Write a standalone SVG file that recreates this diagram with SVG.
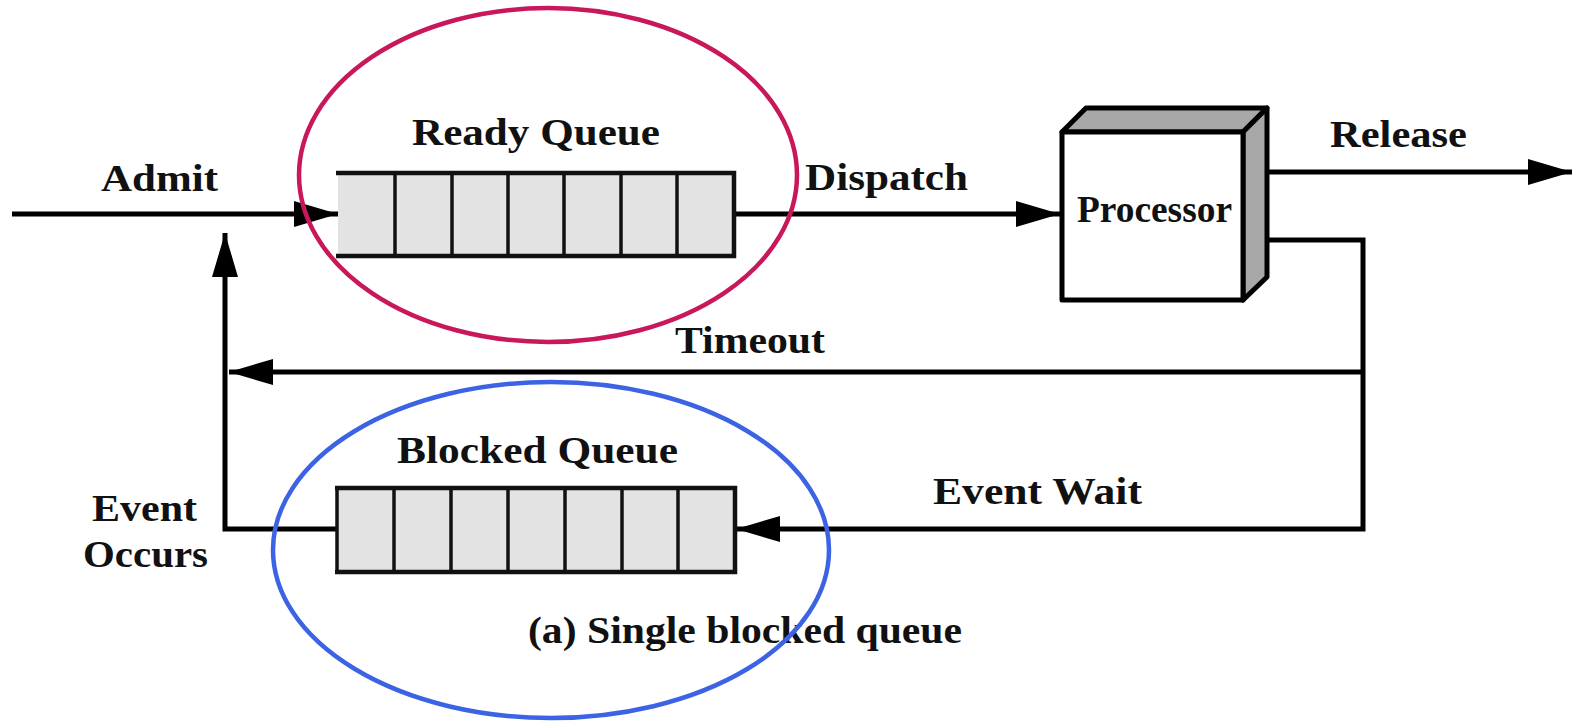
<svg xmlns="http://www.w3.org/2000/svg" width="1574" height="721" viewBox="0 0 1574 721">
  <style>
    .lbl { font-family: "Liberation Serif", "Times New Roman", serif; font-weight: bold; font-size: 37px; fill: #111; }
    .conn { fill: none; stroke: #000; stroke-width: 5; }
    .qfill { fill: #e3e3e3; stroke: none; }
    .qedge { stroke: #111; stroke-width: 4.5; fill: none; }
    .qdiv { stroke: #111; stroke-width: 3.5; }
    .face { stroke: #000; stroke-width: 5; stroke-linejoin: round; }
  </style>
  <defs>
    <marker id="arrow" markerUnits="userSpaceOnUse" markerWidth="46" markerHeight="28" refX="44" refY="13" orient="auto">
      <path d="M0,0 L44,13 L0,26 Z" fill="#000"/>
    </marker>
  </defs>

  <rect width="1574" height="721" fill="#fff"/>

  <!-- connectors -->
  <g id="connectors">
    <!-- Admit -->
    <line class="conn" x1="12" y1="214" x2="338" y2="214" marker-end="url(#arrow)"/>
    <!-- Dispatch -->
    <line class="conn" x1="734" y1="214" x2="1060" y2="214" marker-end="url(#arrow)"/>
    <!-- Release -->
    <line class="conn" x1="1250" y1="172" x2="1572" y2="172" marker-end="url(#arrow)"/>
    <!-- Event wait path out of the processor -->
    <polyline class="conn" points="1250,240 1363,240 1363,529 736,529" marker-end="url(#arrow)"/>
    <!-- Timeout -->
    <line class="conn" x1="1363" y1="372" x2="229" y2="372" marker-end="url(#arrow)"/>
    <!-- Event occurs back to ready queue -->
    <polyline class="conn" points="337,529 225,529 225,233" marker-end="url(#arrow)"/>
  </g>

  <!-- Ready queue -->
  <g id="ready-queue">
    <rect class="qfill" x="338" y="173" width="396" height="83"/>
    <g class="qdiv">
      <line x1="395" y1="173" x2="395" y2="256"/>
      <line x1="452" y1="173" x2="452" y2="256"/>
      <line x1="508" y1="173" x2="508" y2="256"/>
      <line x1="564" y1="173" x2="564" y2="256"/>
      <line x1="621" y1="173" x2="621" y2="256"/>
      <line x1="677" y1="173" x2="677" y2="256"/>
    </g>
    <polyline class="qedge" points="336,173 734,173 734,256 336,256"/>
    <text class="lbl" x="412" y="145" textLength="248" lengthAdjust="spacingAndGlyphs">Ready Queue</text>
  </g>

  <!-- Blocked queue -->
  <g id="blocked-queue">
    <rect class="qfill" x="337" y="488" width="398" height="84"/>
    <g class="qdiv">
      <line x1="394" y1="488" x2="394" y2="572"/>
      <line x1="451" y1="488" x2="451" y2="572"/>
      <line x1="508" y1="488" x2="508" y2="572"/>
      <line x1="565" y1="488" x2="565" y2="572"/>
      <line x1="622" y1="488" x2="622" y2="572"/>
      <line x1="678" y1="488" x2="678" y2="572"/>
    </g>
    <polyline class="qedge" points="335,488 735,488 735,572 335,572"/>
    <line x1="337" y1="488" x2="337" y2="572" stroke="#111" stroke-width="3.5"/>
    <text class="lbl" x="397" y="463" textLength="281" lengthAdjust="spacingAndGlyphs">Blocked Queue</text>
  </g>

  <!-- Processor block -->
  <g id="processor">
    <polygon class="face" points="1062,132 1086,108 1267,108 1243,132" fill="#a8a8a8"/>
    <polygon class="face" points="1243,132 1267,108 1267,277 1243,300" fill="#a8a8a8"/>
    <rect class="face" x="1062" y="132" width="181" height="168" fill="#fff"/>
    <text class="lbl" x="1077" y="222" font-size="32" textLength="155" lengthAdjust="spacingAndGlyphs">Processor</text>
  </g>

  <!-- labels -->
  <g id="labels">
    <text class="lbl" x="101" y="191" textLength="117" lengthAdjust="spacingAndGlyphs">Admit</text>
    <text class="lbl" x="805" y="190" textLength="163" lengthAdjust="spacingAndGlyphs">Dispatch</text>
    <text class="lbl" x="1330" y="147" textLength="137" lengthAdjust="spacingAndGlyphs">Release</text>
    <text class="lbl" x="675" y="353" textLength="150" lengthAdjust="spacingAndGlyphs">Timeout</text>
    <text class="lbl" x="933" y="504" textLength="209" lengthAdjust="spacingAndGlyphs">Event Wait</text>
    <text class="lbl" x="92" y="521" textLength="105" lengthAdjust="spacingAndGlyphs">Event</text>
    <text class="lbl" x="83" y="567" textLength="125" lengthAdjust="spacingAndGlyphs">Occurs</text>
    <text class="lbl" x="528" y="643" textLength="434" lengthAdjust="spacingAndGlyphs">(a) Single blocked queue</text>
  </g>

  <!-- highlight rings -->
  <g id="highlights" fill="none" stroke-width="4.5">
    <ellipse id="ready-ring" cx="548" cy="175" rx="249" ry="167" stroke="#c8175a"/>
    <ellipse id="blocked-ring" cx="551" cy="550" rx="278" ry="168" stroke="#3b63e3"/>
  </g>
</svg>
